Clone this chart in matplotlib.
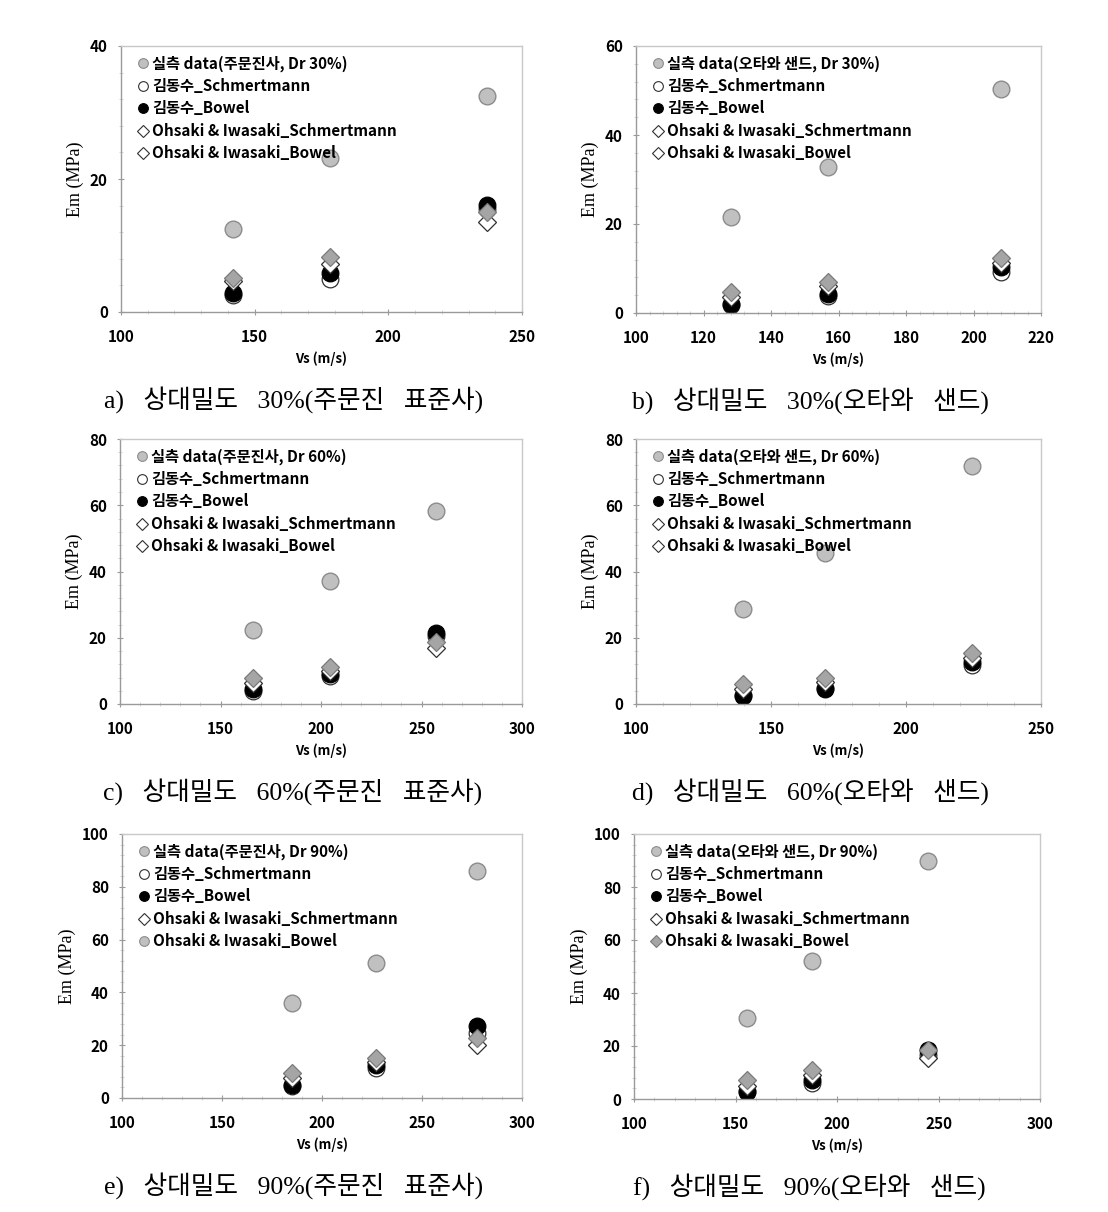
import matplotlib
matplotlib.use("Agg")
import matplotlib.pyplot as plt
from matplotlib.ticker import MultipleLocator, AutoMinorLocator
from matplotlib.lines import Line2D

plt.rcParams['font.family'] = ['Noto Sans CJK KR', 'DejaVu Sans']

# ---- data (Vs in m/s, Em in MPa) ----
# a) Dr 30%, 주문진 표준사
vs_a = [142, 178, 237]
meas_a = [12.5, 23.1, 32.5]
kim_sch_a = [2.5, 4.9, 15.5]
kim_bow_a = [2.9, 5.9, 16.1]
oi_sch_a = [4.6, 7.2, 13.6]
oi_bow_a = [5.1, 8.2, 15.1]

# b) Dr 30%, 오타와 샌드
vs_b = [128, 157, 208]
meas_b = [21.5, 32.9, 50.3]
kim_sch_b = [1.8, 3.8, 9.3]
kim_bow_b = [2.0, 4.2, 10.4]
oi_sch_b = [3.6, 6.0, 11.2]
oi_bow_b = [4.8, 7.0, 12.4]

# c) Dr 60%, 주문진 표준사
vs_c = [166, 204.5, 257]
meas_c = [22.3, 37.2, 58.3]
kim_sch_c = [4.0, 8.5, 20.5]
kim_bow_c = [4.4, 9.2, 21.3]
oi_sch_c = [6.2, 10.0, 16.8]
oi_bow_c = [7.7, 11.3, 18.8]

# d) Dr 60%, 오타와 샌드
vs_d = [139.5, 170, 224.3]
meas_d = [28.6, 45.5, 71.8]
kim_sch_d = [2.8, 4.8, 11.8]
kim_bow_d = [2.5, 4.4, 12.8]
oi_sch_d = [4.5, 6.5, 13.8]
oi_bow_d = [5.9, 7.9, 15.3]

# e) Dr 90%, 주문진 표준사
vs_e = [184.8, 226.8, 277.7]
meas_e = [35.9, 51.3, 86.0]
kim_sch_e = [4.5, 11.5, 24.5]
kim_bow_e = [4.9, 12.5, 27.3]
oi_sch_e = [7.5, 13.5, 20.1]
oi_bow_e = [9.6, 15.0, 22.6]

# f) Dr 90%, 오타와 샌드
vs_f = [155.8, 187.5, 245]
meas_f = [30.7, 52.2, 89.8]
kim_sch_f = [3.2, 6.2, 16.5]
kim_bow_f = [2.8, 7.2, 18.5]
oi_sch_f = [5.0, 9.0, 15.4]
oi_bow_f = [7.2, 10.9, 18.5]

series_names = ["김동수_Schmertmann", "김동수_Bowel",
                "Ohsaki & Iwasaki_Schmertmann", "Ohsaki & Iwasaki_Bowel"]

panels = [
    dict(vs=vs_a, m=meas_a, ks=kim_sch_a, kb=kim_bow_a, os=oi_sch_a, ob=oi_bow_a,
         meas_label="실측 data(주문진사, Dr 30%)", xlim=(100, 250), xstep=50, ylim=(0, 40), ystep=20,
         caption="a)   상대밀도   30%(주문진   표준사)", pos=[121, 46, 522, 312], last="open"),
    dict(vs=vs_b, m=meas_b, ks=kim_sch_b, kb=kim_bow_b, os=oi_sch_b, ob=oi_bow_b,
         meas_label="실측 data(오타와 샌드, Dr 30%)", xlim=(100, 220), xstep=20, ylim=(0, 60), ystep=20,
         caption="b)   상대밀도   30%(오타와   샌드)", pos=[636, 46, 1041, 313], last="open"),
    dict(vs=vs_c, m=meas_c, ks=kim_sch_c, kb=kim_bow_c, os=oi_sch_c, ob=oi_bow_c,
         meas_label="실측 data(주문진사, Dr 60%)", xlim=(100, 300), xstep=50, ylim=(0, 80), ystep=20,
         caption="c)   상대밀도   60%(주문진   표준사)", pos=[120, 439, 522, 704], last="open"),
    dict(vs=vs_d, m=meas_d, ks=kim_sch_d, kb=kim_bow_d, os=oi_sch_d, ob=oi_bow_d,
         meas_label="실측 data(오타와 샌드, Dr 60%)", xlim=(100, 250), xstep=50, ylim=(0, 80), ystep=20,
         caption="d)   상대밀도   60%(오타와   샌드)", pos=[636, 439, 1041, 704], last="open"),
    dict(vs=vs_e, m=meas_e, ks=kim_sch_e, kb=kim_bow_e, os=oi_sch_e, ob=oi_bow_e,
         meas_label="실측 data(주문진사, Dr 90%)", xlim=(100, 300), xstep=50, ylim=(0, 100), ystep=20,
         caption="e)   상대밀도   90%(주문진   표준사)", pos=[122, 834, 522, 1098], last="graycircle"),
    dict(vs=vs_f, m=meas_f, ks=kim_sch_f, kb=kim_bow_f, os=oi_sch_f, ob=oi_bow_f,
         meas_label="실측 data(오타와 샌드, Dr 90%)", xlim=(100, 300), xstep=50, ylim=(0, 100), ystep=20,
         caption="f)   상대밀도   90%(오타와   샌드)", pos=[634, 834, 1040, 1099], last="graydiamond"),
]

W, H = 1108, 1212
fig = plt.figure(figsize=(W / 100, H / 100), dpi=100)

GRAY = "#c0c0c0"
GRAY_EDGE = "#8c8c8c"
DGRAY = "#a5a5a5"

for p in panels:
    x0, y0, x1, y1 = p["pos"]
    ax = fig.add_axes([x0 / W, 1 - y1 / H, (x1 - x0) / W, (y1 - y0) / H])
    ms = 12
    ax.plot(p["vs"], p["m"], "o", ms=ms, mfc=GRAY, mec=GRAY_EDGE, mew=1.0, ls="none")
    ax.plot(p["vs"], p["ks"], "o", ms=ms, mfc="white", mec="#303030", mew=0.9, ls="none")
    ax.plot(p["vs"], p["kb"], "o", ms=ms, mfc="black", mec="black", mew=0.9, ls="none")
    ax.plot(p["vs"], p["os"], "D", ms=9.5, mfc="white", mec="#303030", mew=0.9, ls="none")
    ax.plot(p["vs"], p["ob"], "D", ms=9.5, mfc=DGRAY, mec="#7a7a7a", mew=0.9, ls="none")

    ax.set_xlim(*p["xlim"])
    ax.set_ylim(*p["ylim"])
    ax.xaxis.set_major_locator(MultipleLocator(p["xstep"]))
    ax.yaxis.set_major_locator(MultipleLocator(p["ystep"]))
    ax.xaxis.set_minor_locator(AutoMinorLocator(5))
    ax.yaxis.set_minor_locator(AutoMinorLocator(5))
    for s in ax.spines.values():
        s.set_color("#c8c8c8")
        s.set_linewidth(1.0)
    ax.spines["left"].set_color("#9a9a9a")
    ax.spines["bottom"].set_color("#9a9a9a")
    ax.tick_params(which="major", direction="inout", length=5, color="#9a9a9a",
                   labelsize=11)
    ax.tick_params(axis="x", which="major", pad=10)
    ax.tick_params(axis="y", which="major", pad=7)
    ax.tick_params(which="minor", direction="inout", length=3, color="#cfcfcf")
    for lab in ax.get_xticklabels() + ax.get_yticklabels():
        lab.set_fontweight("bold")

    ax.set_xlabel("Vs (m/s)", fontsize=9.5, fontweight="bold", labelpad=4)
    ax.set_ylabel("Em (MPa)", fontsize=13, family="Liberation Serif", labelpad=4)

    last = p["last"]
    if last == "open":
        last_h = Line2D([], [], marker="D", ls="none", ms=6, mfc="white", mec="#303030", mew=0.8)
    elif last == "graycircle":
        last_h = Line2D([], [], marker="o", ls="none", ms=7, mfc=GRAY, mec=GRAY_EDGE, mew=0.8)
    else:
        last_h = Line2D([], [], marker="D", ls="none", ms=6, mfc=DGRAY, mec="#7a7a7a", mew=0.8)
    handles = [
        Line2D([], [], marker="o", ls="none", ms=7, mfc=GRAY, mec=GRAY_EDGE, mew=0.8),
        Line2D([], [], marker="o", ls="none", ms=7, mfc="white", mec="#303030", mew=0.8),
        Line2D([], [], marker="o", ls="none", ms=7, mfc="black", mec="black", mew=0.8),
        Line2D([], [], marker="D", ls="none", ms=6, mfc="white", mec="#303030", mew=0.8),
        last_h,
    ]
    labels = [p["meas_label"]] + series_names
    ax.legend(handles, labels, loc="upper left", frameon=False,
              prop={"weight": "bold", "size": 11}, handlelength=0.6, handletextpad=0.3,
              labelspacing=0.42, borderaxespad=0.2, bbox_to_anchor=(0.02, 1.0))

    cx = ((x0 + x1) / 2 - 28) / W
    cy = 1 - (y1 + 88) / H
    fig.text(cx, cy, p["caption"], ha="center", va="center", fontsize=18.5,
             family=["Liberation Serif", "Noto Sans CJK KR"])

fig.savefig("out.png", dpi=100, facecolor="white")
